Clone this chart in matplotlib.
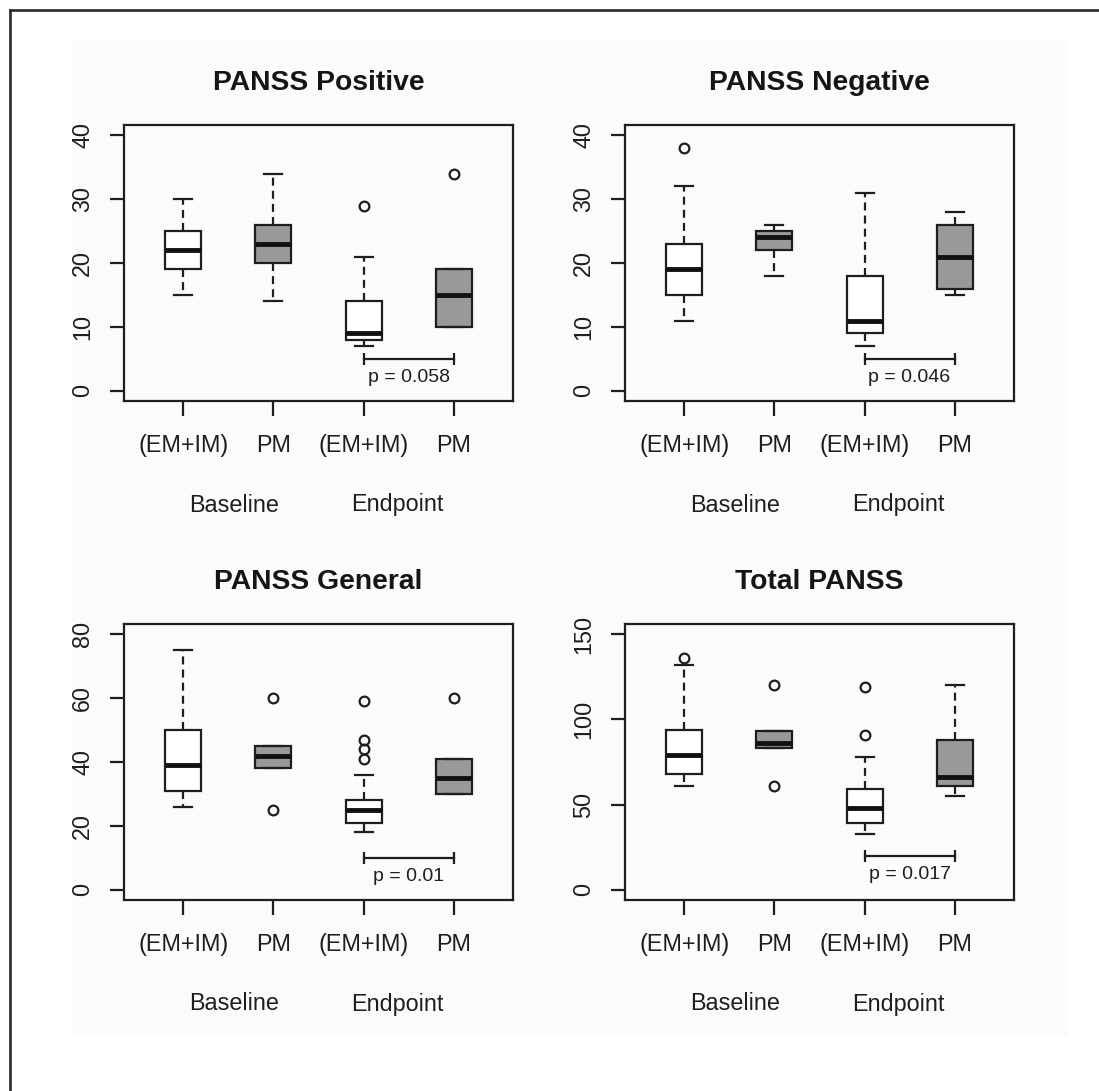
import matplotlib
matplotlib.use("Agg")
import matplotlib.pyplot as plt
from matplotlib.lines import Line2D
from matplotlib.patches import Rectangle

plt.rcParams['font.family'] = ['Liberation Sans', 'DejaVu Sans']

# ---------------- data ----------------
titles = ["PANSS Positive", "PANSS Negative", "PANSS General", "Total PANSS"]
group_labels = ["(EM+IM)", "PM", "(EM+IM)", "PM"]
period_labels = ["Baseline", "Endpoint"]
yticks = [[0, 10, 20, 30, 40], [0, 10, 20, 30, 40], [0, 20, 40, 60, 80], [0, 50, 100, 150]]
p_texts = ["p = 0.058", "p = 0.046", "p = 0.01", "p = 0.017"]
p_bracket_y = [5, 5, 10, 20]

# per panel, per box: whislo, q1, med, q3, whishi
pos_whislo = [15, 14, 7, 10]
pos_q1 = [19, 20, 8, 10]
pos_med = [22, 23, 9, 15]
pos_q3 = [25, 26, 14, 19]
pos_whishi = [30, 34, 21, 19]
pos_fliers = [[], [], [29], [34]]

neg_whislo = [11, 18, 7, 15]
neg_q1 = [15, 22, 9, 16]
neg_med = [19, 24, 11, 21]
neg_q3 = [23, 25, 18, 26]
neg_whishi = [32, 26, 31, 28]
neg_fliers = [[38], [], [], []]

gen_whislo = [26, 38, 18, 30]
gen_q1 = [31, 38, 21, 30]
gen_med = [39, 42, 25, 35]
gen_q3 = [50, 45, 28, 41]
gen_whishi = [75, 45, 36, 41]
gen_fliers = [[], [60, 25], [59, 47, 44, 41], [60]]

tot_whislo = [61, 83, 33, 55]
tot_q1 = [68, 83, 39, 61]
tot_med = [79, 86, 48, 66]
tot_q3 = [94, 93, 59, 88]
tot_whishi = [132, 93, 78, 120]
tot_fliers = [[136], [120, 61], [119, 91], []]

panels = [
    (pos_whislo, pos_q1, pos_med, pos_q3, pos_whishi, pos_fliers),
    (neg_whislo, neg_q1, neg_med, neg_q3, neg_whishi, neg_fliers),
    (gen_whislo, gen_q1, gen_med, gen_q3, gen_whishi, gen_fliers),
    (tot_whislo, tot_q1, tot_med, tot_q3, tot_whishi, tot_fliers),
]
box_colors = ["white", "#999999", "white", "#999999"]
positions = [1, 2, 3, 4]
period_x = [1.56, 3.37]

# ---------------- figure ----------------
W, H = 1099, 1091
fig = plt.figure(figsize=(W / 100, H / 100), dpi=100)
fig.patch.set_facecolor("white")

# light background panel
fig.add_artist(Rectangle((72 / W, 1 - 1036 / H), (1068 - 72) / W, (1036 - 40) / H,
                         transform=fig.transFigure, facecolor="#fbfbfb",
                         edgecolor="none", zorder=-10))
# outer frame (top and left edges)
fig.add_artist(Line2D([9.5 / W, 9.5 / W], [0, 1 - 9.5 / H], transform=fig.transFigure,
                      color="#2a2a2a", lw=1.9))
fig.add_artist(Line2D([9.5 / W, 1], [1 - 9.5 / H, 1 - 9.5 / H], transform=fig.transFigure,
                      color="#2a2a2a", lw=1.9))

ax_px = [(124, 125), (625, 125), (124, 624), (625, 624)]
aw, ah = 389, 276
col = "#1e1e1e"
txt = "#1e1e1e"
fs_tick = 16.8
lw = 1.6

for i, (x0, y0) in enumerate(ax_px):
    ax = fig.add_axes([x0 / W, 1 - (y0 + ah) / H, aw / W, ah / H])
    ax.set_facecolor("none")
    wl, q1, md, q3, wh, fl = panels[i]
    stats = []
    for k in range(4):
        stats.append(dict(whislo=wl[k], q1=q1[k], med=md[k], q3=q3[k],
                          whishi=wh[k], fliers=fl[k]))
    bp = ax.bxp(stats, positions=positions, widths=0.4, capwidths=0.2,
                patch_artist=True, showfliers=True,
                boxprops=dict(linewidth=lw, edgecolor=col),
                medianprops=dict(linewidth=3.5, color="#111111", solid_capstyle="butt"),
                whiskerprops=dict(linewidth=lw, color=col, linestyle=(0, (3.6, 2.3))),
                capprops=dict(linewidth=lw, color=col),
                flierprops=dict(marker="o", markersize=7, markerfacecolor="none",
                                markeredgecolor=col, markeredgewidth=lw, linestyle="none"))
    for patch, c in zip(bp["boxes"], box_colors):
        patch.set_facecolor(c)

    yt = yticks[i]
    top = yt[-1]
    ax.set_ylim(-0.04 * top, top * 1.04)
    ax.set_xlim(0.34, 4.66)
    ax.set_yticks(yt)
    ax.set_yticklabels([str(v) for v in yt], rotation=90, va="center",
                       fontsize=fs_tick, color=txt)
    ax.set_xticks(positions)
    ax.set_xticklabels(group_labels, fontsize=fs_tick, color=txt)
    ax.tick_params(axis="y", length=10, width=lw, color=col, pad=11.5)
    ax.tick_params(axis="x", length=11, width=lw, color=col, pad=13)
    for s in ax.spines.values():
        s.set_linewidth(lw)
        s.set_color(col)

    # title
    ax.annotate(titles[i], xy=(0.5, 1), xycoords="axes fraction",
                xytext=(0, 42 * 0.72), textcoords="offset points",
                ha="center", va="center", fontsize=20.3, fontweight="bold",
                color="#151515")
    # period labels
    for px, lab in zip(period_x, period_labels):
        ax.annotate(lab, xy=(px, 0), xycoords=("data", "axes fraction"),
                    xytext=(0, -104 * 0.72), textcoords="offset points",
                    ha="center", va="center", fontsize=fs_tick, color=txt)
    # p-value bracket
    by = p_bracket_y[i]
    ax.plot([positions[2], positions[3]], [by, by], color=col, lw=lw,
            marker="|", markersize=8, markeredgewidth=lw)
    ax.annotate(p_texts[i], xy=((positions[2] + positions[3]) / 2, by), xycoords="data",
                xytext=(0, -19 * 0.72), textcoords="offset points",
                ha="center", va="center", fontsize=14, color=txt)

fig.savefig("out.png", dpi=100)
